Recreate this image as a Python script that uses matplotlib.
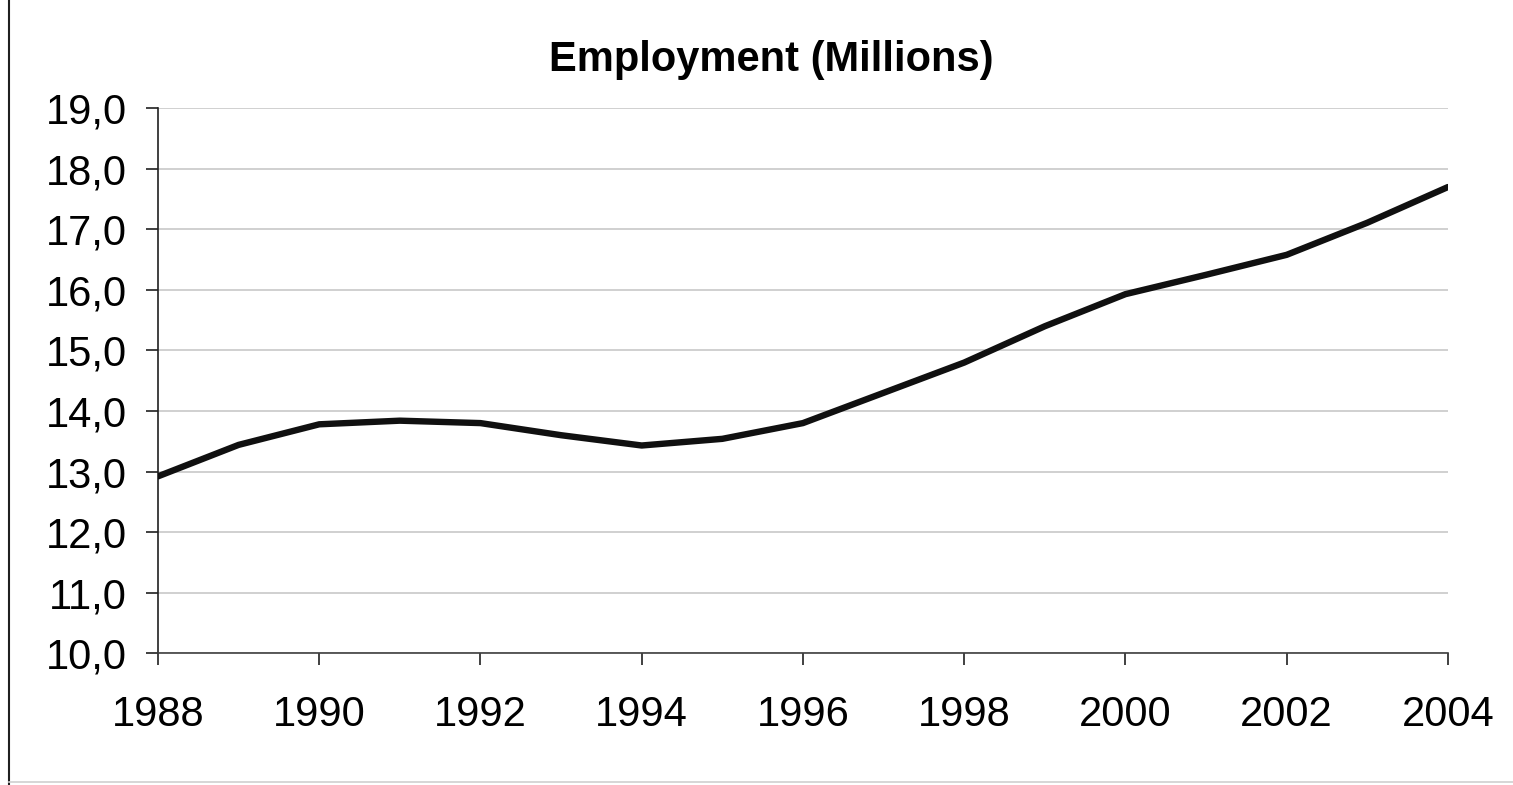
import matplotlib.pyplot as plt
from matplotlib.ticker import FuncFormatter
from matplotlib.lines import Line2D

years = [1988, 1989, 1990, 1991, 1992, 1993, 1994, 1995, 1996,
         1997, 1998, 1999, 2000, 2001, 2002, 2003, 2004]
employment = [12.92, 13.44, 13.78, 13.84, 13.80, 13.60, 13.43, 13.54, 13.80,
              14.30, 14.80, 15.40, 15.93, 16.25, 16.58, 17.11, 17.70]
x_ticks = list(range(1988, 2005, 2))
y_ticks = list(range(10, 20))

plt.rcParams['font.family'] = ['Liberation Sans', 'DejaVu Sans']

fig = plt.figure(figsize=(15.13, 7.85), dpi=100)
ax = fig.add_axes([0.1044, 0.168, 0.8526, 0.694])

for v in y_ticks:
    ax.axhline(v, color='#c8c8c8', lw=1.2, zorder=1)

ax.plot(years, employment, color='#101010', lw=4.6, solid_joinstyle='round',
        solid_capstyle='round', zorder=3)

ax.set_xlim(1988, 2004)
ax.set_ylim(10, 19)
ax.set_xticks(x_ticks)
ax.set_yticks(y_ticks)
ax.yaxis.set_major_formatter(FuncFormatter(lambda v, p: f'{v:.1f}'.replace('.', ',')))
ax.tick_params(axis='both', labelsize=30, direction='out', length=8.5, width=1.2,
               color='#202020')
ax.tick_params(axis='x', pad=22)
ax.tick_params(axis='y', pad=14)

ax.spines['top'].set_visible(False)
ax.spines['right'].set_visible(False)
ax.spines['left'].set_color('#202020')
ax.spines['bottom'].set_color('#404040')
ax.spines['left'].set_linewidth(1.2)
ax.spines['bottom'].set_linewidth(1.2)

fig.text(0.5096, 0.9236, 'Employment (Millions)', fontsize=30, fontweight='bold',
         ha='center', va='center')

fig.add_artist(Line2D([0.006, 0.006], [0.0, 1.0], color='#202020', lw=1.5,
                      transform=fig.transFigure))
fig.add_artist(Line2D([0.006, 1.0], [0.004, 0.004], color='#d0d0d0', lw=1.2,
                      transform=fig.transFigure))

fig.savefig('out.png', dpi=100)
